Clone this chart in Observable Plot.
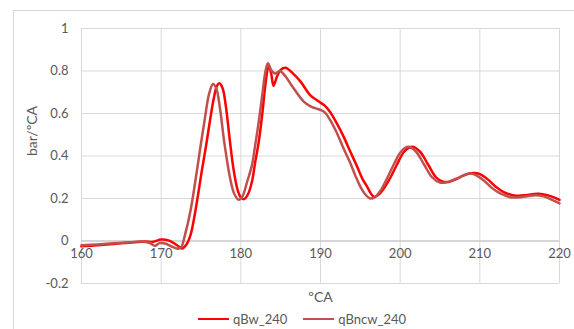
<!DOCTYPE html>
<html>
<head>
<meta charset="utf-8">
<script src="https://cdn.jsdelivr.net/npm/d3@7"></script>
<script src="https://cdn.jsdelivr.net/npm/@observablehq/plot@0.6"></script>
<style>
  body { margin: 0; background: #fff; font-family: Lato, "Liberation Sans", sans-serif; }
  #wrap { position: relative; width: 574px; height: 329px; overflow: hidden; }
  #border { position: absolute; left: 13px; top: 10px; width: 570px; height: 330px; border: 1px solid #d9d9d9; }
  #chart { position: absolute; left: 0; top: 0; }
  #legend { position: absolute; top: 311px; left: 0; width: 574px; display: flex; justify-content: center; gap: 16px; font-size: 13px; color: #595959; padding-left: 30px; box-sizing: border-box; }
  .item { display: flex; align-items: center; gap: 4px; }
  .sw { width: 31px; height: 0; border-top: 2.5px solid; }
</style>
</head>
<body>
<div id="wrap">
  <div id="border"></div>
  <div id="chart"></div>
  <div id="legend"></div>
</div>
<script>
const seriesNames = ["qBw_240", "qBncw_240"];
const seriesColors = ["#ff0000", "#c0504d"];

const qBw_x = [160,162,164,166,168,169,170,171,172,172.6,173.2,173.7,174.1,174.6,175.1,175.6,176.1,176.6,177.0,177.3,177.7,178.1,178.6,179.1,179.6,180.0,180.4,180.9,181.4,181.8,182.25,182.7,183.1,183.5,183.8,184.1,184.5,185,185.6,186.5,187.5,188.7,189.8,190.5,191.25,192.1,192.9,193.75,194.6,195.3,195.85,196.3,196.7,197.2,198,198.8,199.6,200.5,201.5,202.5,203.5,204.5,205.3,206.1,207,208,209.2,210,211,212,213,214.5,215.5,217.4,218.5,219.3,220];
const qBw_y = [-0.025,-0.02,-0.014,-0.008,-0.002,-0.004,0.007,0.002,-0.02,-0.035,-0.015,0.03,0.1,0.21,0.33,0.44,0.56,0.67,0.73,0.742,0.72,0.64,0.48,0.334,0.24,0.205,0.197,0.22,0.28,0.37,0.467,0.6,0.74,0.826,0.79,0.731,0.77,0.805,0.815,0.79,0.75,0.687,0.656,0.638,0.605,0.55,0.491,0.42,0.35,0.29,0.256,0.225,0.208,0.215,0.25,0.3,0.36,0.42,0.443,0.42,0.36,0.3,0.28,0.278,0.29,0.31,0.32,0.315,0.29,0.255,0.23,0.213,0.215,0.222,0.215,0.205,0.193];

const qBncw_x = [160,162,164,166,167.5,168.5,169.2,169.8,170.5,171.3,172.1,172.5,173.0,173.7,174.5,175.0,175.5,176.0,176.5,176.9,177.4,177.9,178.7,179.2,179.74,180.2,180.8,181.4,181.8,182.25,182.7,183.1,183.4,183.8,184.3,184.9,185.6,186.6,187.9,188.7,189.4,190.0,190.6,191.2,192.1,192.9,193.75,194.4,195.0,195.6,196.26,196.8,197.5,198.3,199.2,200.1,201,202,203,204,205,205.7,206.5,207.5,208.8,209.5,210.5,211.5,212.5,214,215.5,217,218,219,220];
const qBncw_y = [-0.02,-0.016,-0.011,-0.006,-0.002,-0.008,-0.022,-0.01,-0.012,-0.026,-0.036,-0.03,0.03,0.146,0.334,0.46,0.58,0.69,0.739,0.72,0.62,0.47,0.287,0.22,0.194,0.21,0.28,0.357,0.45,0.561,0.69,0.8,0.836,0.805,0.788,0.80,0.775,0.72,0.656,0.635,0.624,0.617,0.603,0.57,0.505,0.435,0.366,0.305,0.256,0.22,0.2,0.205,0.235,0.29,0.36,0.42,0.443,0.42,0.36,0.3,0.275,0.275,0.285,0.3,0.318,0.31,0.285,0.25,0.225,0.205,0.208,0.215,0.21,0.195,0.177];

const xTicks = [160,170,180,190,200,210,220];
const yTicks = [-0.2,0,0.2,0.4,0.6,0.8,1];
const yTickLabels = ["-0.2","0","0.2","0.4","0.6","0.8","1"];
const xTitle = "\u00BACA";
const yTitle = "bar/\u00BACA";

const data = [
  ...qBw_x.map((x, i) => ({x, y: qBw_y[i], s: seriesNames[0]})),
  ...qBncw_x.map((x, i) => ({x, y: qBncw_y[i], s: seriesNames[1]}))
];

const chart = Plot.plot({
  width: 574,
  height: 305,
  marginLeft: 81,
  marginRight: 15,
  marginTop: 28,
  marginBottom: 22,
  x: {domain: [160, 220], axis: null},
  y: {domain: [-0.2, 1], axis: null},
  color: {domain: seriesNames, range: seriesColors},
  style: {fontFamily: "Lato, 'Liberation Sans', sans-serif", fontSize: "13px", color: "#595959", background: "transparent"},
  marks: [
    Plot.ruleY(yTicks, {stroke: "#d9d9d9", strokeWidth: 1}),
    Plot.ruleX(xTicks, {stroke: "#d9d9d9", strokeWidth: 1}),
    Plot.ruleY([0], {stroke: "#bfbfbf", strokeWidth: 1}),
    Plot.text(yTicks, {y: d => d, text: (d, i) => yTickLabels[i], frameAnchor: "left", textAnchor: "end", dx: -13, fill: "#595959"}),
    Plot.text(xTicks, {x: d => d, y: () => 0, text: d => String(d), dy: 13, fill: "#595959"}),
    Plot.text([yTitle], {text: d => d, frameAnchor: "left", rotate: -90, dx: -49, fill: "#595959", fontSize: 14}),
    Plot.text([xTitle], {text: d => d, frameAnchor: "bottom", lineAnchor: "middle", dy: 14, fill: "#595959", fontSize: 14}),
    Plot.line(data, {x: "x", y: "y", z: "s", stroke: "s", strokeWidth: 2.5, curve: "catmull-rom"})
  ]
});
document.getElementById("chart").appendChild(chart);

const legend = document.getElementById("legend");
seriesNames.forEach((n, i) => {
  const it = document.createElement("div");
  it.className = "item";
  const sw = document.createElement("span");
  sw.className = "sw";
  sw.style.borderColor = seriesColors[i];
  const t = document.createElement("span");
  t.textContent = n;
  it.appendChild(sw);
  it.appendChild(t);
  legend.appendChild(it);
});
</script>
</body>
</html>
